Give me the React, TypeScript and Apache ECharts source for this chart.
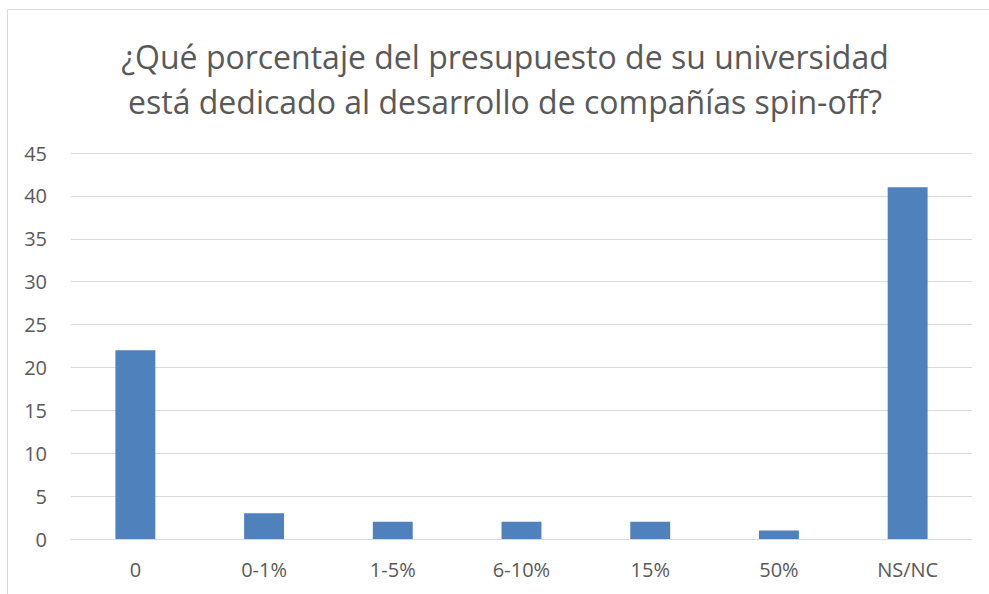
import React, { useEffect, useRef } from "react";
import * as echarts from "echarts";

const categories = ["0", "0-1%", "1-5%", "6-10%", "15%", "50%", "NS/NC"];
const values = [22, 3, 2, 2, 2, 1, 41];
const titleLines = [
  "¿Qué porcentaje del presupuesto de su universidad",
  "está dedicado al desarrollo de compañías spin-off?",
];

export default function App() {
  const ref = useRef<HTMLDivElement>(null);
  useEffect(() => {
    if (!ref.current) return;
    const chart = echarts.init(ref.current, undefined, { renderer: "svg" });
    chart.setOption({
      animation: false,
      textStyle: { fontFamily: "Open Sans" },
      graphic: [
        {
          type: "rect",
          shape: { x: 7.5, y: 9.5, width: 1100, height: 700 },
          style: { fill: "none", stroke: "#d9d9d9", lineWidth: 1 },
          silent: true,
        },
        {
          type: "text",
          x: 505,
          y: 79,
          style: {
            text: titleLines.join("\n"),
            fontFamily: "Open Sans",
            fontSize: 32,
            lineHeight: 45,
            fill: "#595959",
            align: "center",
            verticalAlign: "middle",
          },
        },
      ],
      grid: { left: 71, right: 17, top: 153, bottom: 55, containLabel: false },
      xAxis: {
        type: "category",
        data: categories,
        axisLine: { lineStyle: { color: "#d9d9d9" } },
        axisTick: { show: false },
        axisLabel: { color: "#595959", fontSize: 20, margin: 20, fontFamily: "Open Sans" },
      },
      yAxis: {
        type: "value",
        min: 0,
        max: 45,
        interval: 5,
        axisLine: { show: false },
        axisTick: { show: false },
        splitLine: { lineStyle: { color: "#d9d9d9", width: 1 } },
        axisLabel: { color: "#595959", fontSize: 20, margin: 24, fontFamily: "Open Sans" },
      },
      series: [
        {
          type: "bar",
          data: values,
          barWidth: "31%",
          itemStyle: { color: "#4f81bd" },
        },
      ],
    });
    return () => chart.dispose();
  }, []);
  return (
    <div
      ref={ref}
      style={{ position: "fixed", left: 0, top: 0, width: 989, height: 594, background: "#fff" }}
    />
  );
}
